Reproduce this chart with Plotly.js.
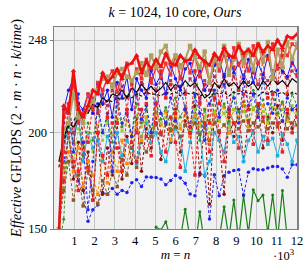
<!DOCTYPE html>
<html>
<head>
<meta charset="utf-8">
<script src="https://cdn.plot.ly/plotly-3.0.1.min.js"></script>
<style>html,body{margin:0;padding:0;background:#fff;}#chart{width:307px;height:262px;}</style>
</head>
<body>
<div id="chart"></div>
<script>
// m = n sizes (×10^3 on the axis)
const sizes = [240,480,720,960,1200,1440,1680,1920,2160,2400,2640,2880,3120,3360,3600,3840,4080,4320,4560,4800,
  5040,5280,5520,5760,6000,6240,6480,6720,6960,7200,7440,7680,7920,8160,8400,8640,8880,9120,9360,9600,
  9840,10080,10320,10560,10800,11040,11280,11520,11760,12000];

const greenSolid = [140,140,140,140,140,140,140,140,140,140,140,140,140,140,140,140,140,140,140,140,
  151,149.5,153.8,145,140,145,160.3,145,140,159,142,140,140,145,161.6,145,165,145,167.3,148,
  170.3,164.6,167.7,148,167.7,145,170,145,140,140];
const blueLower = [150,185,198,182,175,170,154,160,162.5,169,168,171,168,170,169,174,175.5,172,177,176.9,
  176.7,175.9,172.9,175.2,177.8,176.4,173.8,168.1,167.2,179,177.6,155.2,178.1,167.2,177.6,179.5,180.4,180.7,167.6,179.5,
  181.3,180.7,180.7,181.6,182.4,182.4,181.1,176.9,183.3,183.3];
const darkRed = [150,180,200,176,195,170,190,165,200,168,192,178,205,176,198,184,208,180,202,192,
  210,186,205,195,212,190,206,198,214,178,205,163,210,196,168,208,198,212,185,206,
  200,214,192,208,200,214,196,210,202,212];
const cyan = [150,190,205,195,208,185,200,192,196,185,198,190,200,188,196,192,184,198,205,195,
  200,190,185,196,202,198,180,195,209,200,178,185,200,196,190,205,195,198,185,196,
  200,190,198,194,197,188,199,194,185,196];
const brown = [150,170,185,165,178,162,180,170,163,175,168,180,172,186,178,192,182,195,190,198,
  204,199,205,201,203,198,204,200,205,199,203,196,205,201,204,200,205,202,206,201,
  205,203,206,202,205,203,206,202,205,204];
const orange = [150,175,190,180,192,172,185,178,168,188,174,190,180,196,184,198,205,196,208,200,
  210,204,211,196,208,202,212,198,209,205,212,194,210,206,213,200,212,208,214,203,
  212,209,214,205,213,210,215,206,212,208];
const yellowGreen = [145,180,198,185,202,192,200,190,204,196,205,199,207,201,206,198,209,203,207,200,
  210,205,208,202,211,204,209,201,212,203,208,200,211,206,210,203,212,207,211,204,
  213,208,211,205,213,209,212,206,214,210];
const greenDash = [140,155,205,195,210,188,205,196,212,200,208,195,214,203,210,198,215,205,212,200,
  216,207,213,202,218,208,214,203,219,196,212,205,220,210,215,206,221,211,216,205,
  222,212,217,207,221,210,216,208,220,214];
const redDashLow = [150,175,200,185,170,195,182,165,200,188,178,205,192,180,210,195,185,212,198,188,
  215,200,190,208,195,182,212,200,178,215,205,190,218,200,185,212,205,192,220,206,
  194,215,208,196,220,205,190,212,200,208];
const blueDash = [150,205,215,190,220,195,160,185,215,200,210,180,218,205,212,198,220,207,214,200,
  222,210,205,218,206,224,212,203,220,210,196,215,222,208,225,212,218,205,226,214,
  220,208,228,215,210,222,206,218,212,214];
const redDashHigh = [150,190,215,200,180,205,195,215,200,222,208,225,205,230,212,227,200,233,215,228,
  205,232,218,225,210,235,220,200,232,218,225,205,236,215,230,210,234,222,238,212,
  233,225,237,218,232,226,240,220,236,230];
const maroonDash = [150,195,210,200,215,205,212,218,210,220,214,222,216,224,218,225,219,226,221,227,
  222,228,220,227,223,229,221,228,224,216,227,222,229,224,230,225,229,223,230,226,
  231,225,230,227,232,226,231,228,232,229];
const blackDash = [182,195,203,206,210,208,212,213,215,214,217,216,218,217,219,218,220,219,221,220,
  220,219,221,220,221,219,221,220,221,219,220,218,221,220,221,219,221,220,222,220,
  221,219,221,220,222,220,221,219,221,220];
const blackSolid = [185,197,205,203,207,211,210,215,213,218,216,220,219,222,218,223,221,225,222,224,
  221,223,226,222,225,223,227,224,226,222,218,220,226,223,228,224,226,223,227,224,
  226,222,227,224,228,225,227,224,228,226];
const blueSolid = [150,212,222,228,215,212,220,210,225,215,222,208,226,218,229,212,228,222,218,232,
  225,230,220,235,228,222,233,236,227,232,222,226,235,238,229,240,231,236,228,238,
  226,236,230,240,228,235,232,229,237,232];
const redSolid = [150,208,215,225,205,210,220,212,226,222,228,232,221,230,236,225,233,228,238,226,
  234,229,236,230,240,228,238,231,240,229,236,226,239,232,241,230,244,235,240,232,
  245,236,241,238,246,233,243,240,246,244];
const olive = [150,202,205,220,208,205,213,216,222,228,229,224,231,233,229,227,231,236,230,240,
  234,242,245,236,240,234,238,245,239,234,242,226,238,235,245,230,238,246,236,243,
  233,246,237,247,228,243,234,247,238,246];
const ours = [145,214,210,232,212,208,214,222,220,231,226,229,233,228,235,236,240,231,237,233,
  238,234,241,236,235,240,237,238,243,239,237,235,241,238,244,240,239,245,241,243,
  240,246,242,245,243,248,244,250,249,251];

const xk = sizes.map(v => v / 1000);

function tr(y, color, width, dash, symbol, msize) {
  return {
    x: xk, y: y, type: 'scatter', mode: msize > 0 ? 'lines+markers' : 'lines', cliponaxis: true,
    line: {color: color, width: width, dash: dash},
    marker: {color: color, size: msize, symbol: symbol},
    hoverinfo: 'skip', showlegend: false
  };
}
const D = '3px,2px';
const data = [
  tr(greenSolid, '#1a7f1a', 1.2, 'solid', 'circle', 3),
  tr(blueLower, '#2222ee', 1, D, 'circle', 3.5),
  tr(darkRed, '#8b1010', 1, D, 'circle', 3.5),
  tr(cyan, '#20b0e0', 1, 'solid', 'square', 3.5),
  tr(brown, '#8b5a2b', 1, D, 'square', 3.5),
  tr(orange, '#ff8c00', 1, D, 'square', 3.5),
  tr(yellowGreen, '#9acd32', 1, D, 'square', 3),
  tr(greenDash, '#3c8f2c', 1, D, 'circle', 3),
  tr(redDashLow, '#e8202a', 1, D, 'square', 3.5),
  tr(blueDash, '#2a2af0', 1, D, 'circle', 3.5),
  tr(redDashHigh, '#ee2020', 1, D, 'square', 3.5),
  tr(maroonDash, '#b03060', 1, D, 'square', 3),
  tr(blackDash, '#111111', 1.1, D, 'circle', 0),
  tr(blackSolid, '#000000', 1.1, 'solid', 'circle', 0),
  tr(blueSolid, '#1a1aee', 1, 'solid', 'circle', 3.5),
  tr(redSolid, '#f03030', 1.4, 'solid', 'square', 3.5),
  tr(olive, '#b0a060', 2, 'solid', 'square', 4.5),
  tr(ours, '#ee1010', 2.5, 'solid', 'triangle-up', 5)
];

const serif = 'Liberation Serif, DejaVu Serif, serif';
const layout = {
  width: 307, height: 262,
  margin: {l: 54, r: 10, t: 27, b: 33},
  paper_bgcolor: '#ffffff', plot_bgcolor: '#f0f0f0',
  font: {family: serif, size: 12, color: '#000'},
  title: {text: '<i>k</i> = 1024, 10 core, <i>Ours</i>', x: 0.57, xanchor: 'center', y: 0.952, yanchor: 'middle',
          font: {family: serif, size: 14, color: '#000'}},
  xaxis: {range: [0, 12], tickvals: [1,2,3,4,5,6,7,8,9,10,11,12], ticktext: ['1','2','3','4','5','6','7','8','9','10','11','12'],
          showgrid: true, gridcolor: '#c4c4c4', gridwidth: 1, zeroline: false,
          showline: true, linecolor: '#808080', linewidth: 1.2, mirror: true, ticks: '', ticklen: 0,
          tickfont: {family: serif, size: 12.5, color: '#000'},
          title: {text: '<i>m</i> = <i>n</i>', standoff: 11, font: {family: serif, size: 13, color: '#000'}}},
  yaxis: {range: [150, 254.8], tickvals: [150, 200, 248], ticktext: ['150','200','248'],
          showgrid: true, gridcolor: '#c4c4c4', gridwidth: 1, zeroline: false,
          showline: true, linecolor: '#808080', linewidth: 1.5, mirror: true, ticks: 'outside', ticklen: 3, tickcolor: '#808080',
          tickfont: {family: serif, size: 12.5, color: '#000'},
          title: {text: '<i>Effective</i> GFLOPS (2 · <i>m</i> · <i>n</i> · <i>k</i>/<i>time</i>)', standoff: 3,
                  font: {family: serif, size: 14.5, color: '#000'}}},
  annotations: [{xref: 'paper', yref: 'paper', x: 1.0, y: -0.13, xanchor: 'right', yanchor: 'middle', showarrow: false,
                 text: '·10<sup>3</sup>', font: {family: serif, size: 12.5, color: '#000'}}]
};
Plotly.newPlot('chart', data, layout, {displayModeBar: false, staticPlot: true});
</script>
</body>
</html>
